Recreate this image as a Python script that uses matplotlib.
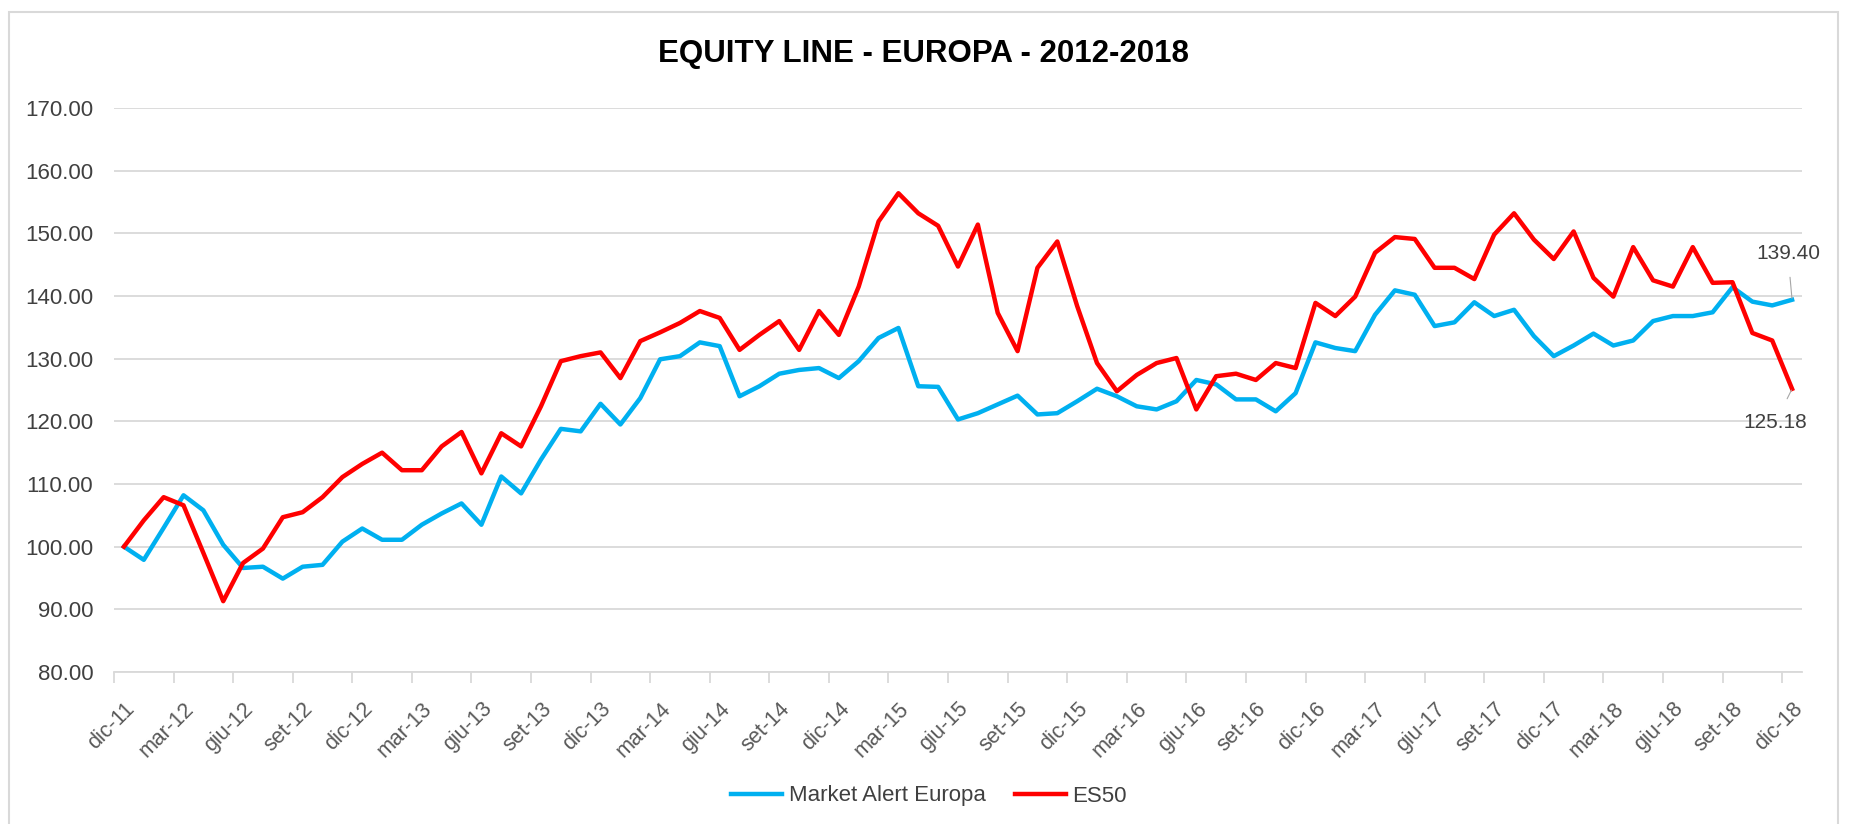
import matplotlib.pyplot as plt
import numpy as np
from matplotlib.patches import Rectangle

plt.rcParams['font.family'] = ['Liberation Sans', 'DejaVu Sans']

# monthly values, dic-11 .. dic-18
market_alert = [100.0, 97.9, 103.0, 108.2, 105.8, 100.3, 96.6, 96.8, 94.9, 96.8, 97.1, 100.8, 102.9, 101.1, 101.1,
                103.5, 105.3, 106.9, 103.5, 111.2, 108.5, 113.9, 118.8, 118.4, 122.8, 119.5, 123.7, 129.9, 130.4,
                132.6, 132.0, 124.0, 125.6, 127.6, 128.2, 128.5, 126.9, 129.6, 133.3, 134.9, 125.6, 125.5, 120.3,
                121.3, 122.7, 124.1, 121.1, 121.3, 123.2, 125.2, 124.0, 122.4, 121.9, 123.2, 126.6, 125.9, 123.5,
                123.5, 121.6, 124.5, 132.6, 131.7, 131.2, 137.0, 140.9, 140.2, 135.2, 135.8, 139.0, 136.8, 137.8,
                133.6, 130.4, 132.1, 134.0, 132.1, 132.9, 136.0, 136.8, 136.8, 137.4, 141.4, 139.1, 138.5, 139.40]
es50 = [100.0, 104.2, 107.9, 106.6, 99.0, 91.3, 97.4, 99.7, 104.7, 105.5, 107.9, 111.1, 113.2, 115.0, 112.2,
        112.2, 116.0, 118.3, 111.7, 118.1, 116.0, 122.4, 129.6, 130.4, 131.0, 126.9, 132.8, 134.2, 135.7,
        137.6, 136.5, 131.4, 133.8, 136.0, 131.4, 137.6, 133.8, 141.5, 151.9, 156.4, 153.2, 151.2, 144.7,
        151.4, 137.3, 131.2, 144.5, 148.7, 138.4, 129.3, 124.8, 127.4, 129.3, 130.1, 121.9, 127.2, 127.6,
        126.6, 129.3, 128.5, 138.9, 136.8, 139.9, 146.9, 149.4, 149.1, 144.5, 144.5, 142.7, 149.8, 153.2,
        149.0, 145.9, 150.3, 142.9, 139.9, 147.8, 142.5, 141.5, 147.8, 142.1, 142.2, 134.1, 132.9, 125.18]
tick_labels = ['dic-11', 'mar-12', 'giu-12', 'set-12', 'dic-12', 'mar-13', 'giu-13', 'set-13', 'dic-13',
               'mar-14', 'giu-14', 'set-14', 'dic-14', 'mar-15', 'giu-15', 'set-15', 'dic-15', 'mar-16',
               'giu-16', 'set-16', 'dic-16', 'mar-17', 'giu-17', 'set-17', 'dic-17', 'mar-18', 'giu-18',
               'set-18', 'dic-18']

BLUE = '#00B0F0'
RED = '#FF0000'
GRID = '#D9D9D9'

x = np.arange(len(market_alert))

fig = plt.figure(figsize=(18.57, 8.24), dpi=100)
fig.patches.append(Rectangle((9 / 1857, -0.05), 1829 / 1857, 1 - 12 / 824 + 0.05,
                             transform=fig.transFigure, fill=False, edgecolor=GRID, linewidth=1.5))

ax = fig.add_axes([114 / 1857, 152 / 824, 1688 / 1857, 564 / 824])

ax.plot(x, market_alert, color=BLUE, lw=3.2, solid_joinstyle='round', label='Market Alert Europa')
ax.plot(x, es50, color=RED, lw=3.2, solid_joinstyle='round', label='ES50')

ax.set_xlim(-0.5, len(x) - 0.5)
ax.set_ylim(80, 170)
ax.set_yticks(np.arange(80, 171, 10))
ax.set_yticklabels([f'{v:.2f}' for v in np.arange(80, 171, 10)])
ax.yaxis.grid(True, color=GRID, lw=1.3)
ax.set_axisbelow(True)

# tick marks between categories, labels on categories
ax.set_xticks(np.arange(-0.5, len(x) - 1, 3))
ax.set_xticklabels([])
ax.set_xticks(x[::3], minor=True)
ax.set_xticklabels(tick_labels, minor=True, rotation=45, ha='right', va='top',
                   rotation_mode='anchor', fontsize=15.5, color='#595959')
ax.tick_params(axis='x', which='major', length=8, color=GRID, width=1.3)
ax.tick_params(axis='x', which='minor', length=0, pad=19)
ax.tick_params(axis='y', length=0, pad=15, labelsize=16, labelcolor='#404040')

for s in ['top', 'right', 'left']:
    ax.spines[s].set_visible(False)
ax.spines['bottom'].set_color(GRID)
ax.spines['bottom'].set_linewidth(1.3)

# end value labels
ax.annotate(f'{market_alert[-1]:.2f}', xy=(x[-1], market_alert[-1]), xytext=(-3, 33),
            textcoords='offset points', ha='center', va='center', fontsize=15, color='#404040',
            arrowprops=dict(arrowstyle='-', color='#A6A6A6', lw=0.8, shrinkA=8, shrinkB=1))
ax.annotate(f'{es50[-1]:.2f}', xy=(x[-1], es50[-1]), xytext=(-12, -24),
            textcoords='offset points', ha='center', va='center', fontsize=15, color='#404040',
            arrowprops=dict(arrowstyle='-', color='#A6A6A6', lw=0.8, shrinkA=9, shrinkB=1))

fig.text(924 / 1857, 1 - 54 / 824, 'EQUITY LINE - EUROPA - 2012-2018', ha='center', va='center',
         fontsize=22.5, fontweight='bold', color='black')

fig.legend(loc='center', bbox_to_anchor=(929 / 1857, 1 - 796 / 824), ncol=2, frameon=False,
           fontsize=16, handlelength=2.3, handletextpad=0.3, columnspacing=1.3, labelcolor='#404040')

fig.savefig('out.png', dpi=100)
